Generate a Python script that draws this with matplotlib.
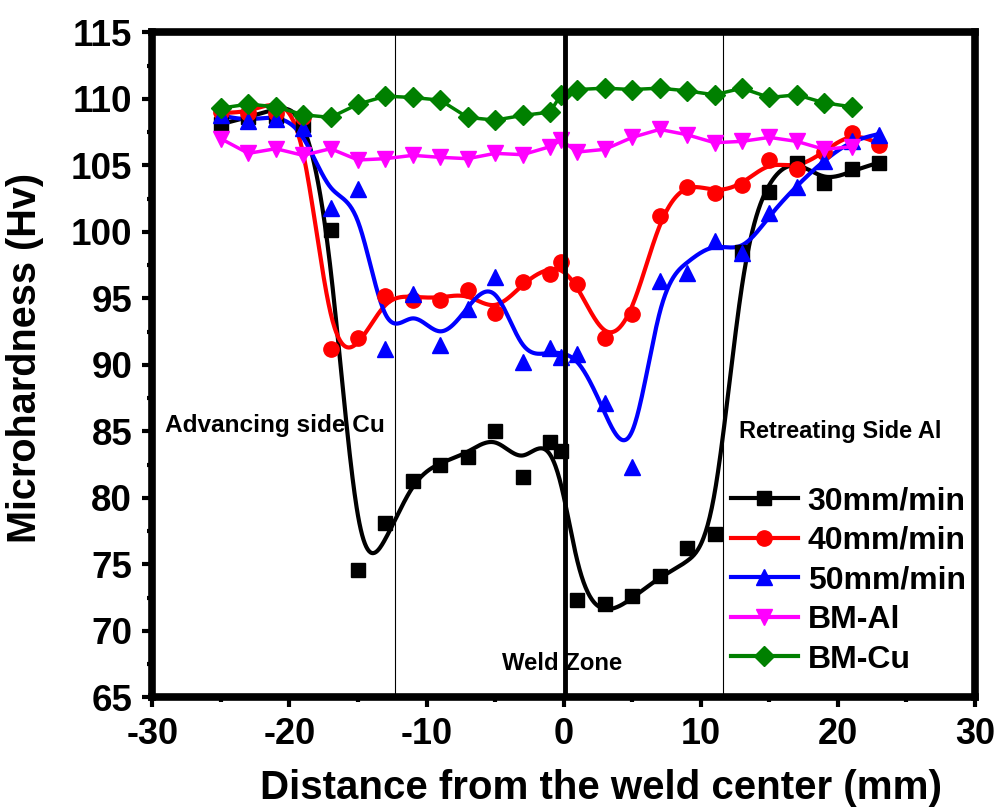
import numpy as np
import matplotlib
matplotlib.use('Agg')
from matplotlib import pyplot as plt
from matplotlib.lines import Line2D
from matplotlib.ticker import MultipleLocator

plt.rcParams['font.family'] = ['Liberation Sans', 'DejaVu Sans']
plt.rcParams['font.weight'] = 'bold'
plt.rcParams['axes.labelweight'] = 'bold'
plt.rcParams['axes.unicode_minus'] = False

# measurement positions (mm from weld center)
x_pos = np.array([-25, -23, -21, -19, -17, -15, -13, -11, -9, -7, -5, -3, -1, -0.2,
                  1, 3, 5, 7, 9, 11, 13, 15, 17, 19, 21, 23])
hv_30 = np.array([108.1, 108.6, 108.7, 108.0, 100.1, 74.6, 78.1, 81.3, 82.5, 83.1, 85.0, 81.6, 84.2, 83.5,
                  72.3, 72.0, 72.6, 74.1, 76.2, 77.3, 98.5, 103.0, 105.2, 103.7, 104.7, 105.2])
hv_40 = np.array([109.0, 108.9, 108.9, 108.6, 91.2, 92.0, 95.2, 94.9, 94.9, 95.6, 93.9, 96.2, 96.8, 97.7,
                  96.1, 92.0, 93.85, 101.2, 103.4, 102.9, 103.5, 105.4, 104.7, 106.0, 107.4, 106.5])
hv_50 = np.array([108.8, 108.3, 108.5, 107.8, 101.8, 103.2, 91.2, 95.3, 91.5, 94.2, 96.6, 90.2, 91.3, 90.6,
                  90.8, 87.1, 82.3, 96.3, 96.9, 99.3, 98.4, 101.4, 103.4, 105.3, 106.8, 107.3])

# base metals, measured up to 21 mm
x_bm = x_pos[:-1]
hv_al = np.array([107.0, 105.9, 106.25, 105.75, 106.25, 105.4, 105.5, 105.75, 105.6, 105.5, 105.9, 105.8, 106.4, 106.9,
                  106.0, 106.2, 107.1, 107.7, 107.3, 106.7, 106.8, 107.1, 106.8, 106.2, 106.4])
hv_cu = np.array([109.3, 109.6, 109.4, 108.8, 108.6, 109.6, 110.2, 110.1, 109.9, 108.6, 108.4, 108.75, 109.0, 110.3,
                  110.7, 110.8, 110.7, 110.8, 110.6, 110.3, 110.8, 110.1, 110.3, 109.7, 109.4])

labels = ['30mm/min', '40mm/min', '50mm/min', 'BM-Al', 'BM-Cu']


def smooth(x, y, lam=0.45, n=961):
    # penalised (cubic smoothing spline like) fit on a fine grid
    xf = np.linspace(x.min(), x.max(), n)
    h = xf[1] - xf[0]
    B = np.zeros((len(x), n))
    for i, xi in enumerate(x):
        j = min(int((xi - xf[0]) / h), n - 2)
        t = (xi - xf[j]) / h
        B[i, j] = 1 - t
        B[i, j + 1] = t
    D = np.diff(np.eye(n), 2, axis=0) / h ** 2
    A = B.T @ B + lam * h * D.T @ D
    z = np.linalg.solve(A, B.T @ y)
    return xf, z


fig = plt.figure(figsize=(9.99, 8.08), dpi=100)
ax = fig.add_axes([0.1525, 0.137, 0.8235, 0.823])

styles = [('black', 's', 10), ('red', 'o', 11), ('blue', '^', 11)]
for y, (c, m, ms) in zip([hv_30, hv_40, hv_50], styles):
    xf, yf = smooth(x_pos, y)
    ax.plot(xf, yf, color=c, lw=3, zorder=3)
    ax.plot(x_pos, y, ls='none', marker=m, ms=ms, color=c, zorder=4)

ax.plot(x_bm, hv_al, color='magenta', lw=2.5, marker='v', ms=11, zorder=5)
ax.plot(x_bm, hv_cu, color='green', lw=2.5, marker='D', ms=10, zorder=6)

# zone boundaries
ax.axvline(-12.3, color='black', lw=0.8, zorder=2)
ax.axvline(11.6, color='black', lw=0.8, zorder=2)
ax.axvline(0.1, color='black', lw=3.5, zorder=7)

ax.text(-29.1, 85.45, 'Advancing side Cu', fontsize=17.6, va='center', ha='left', zorder=8)
ax.text(12.8, 84.95, 'Retreating Side Al', fontsize=17, va='center', ha='left', zorder=8)
ax.text(-4.5, 67.55, 'Weld Zone', fontsize=17.2, va='center', ha='left', zorder=8)

ax.set_xlim(-30, 30)
ax.set_ylim(65, 115)
ax.xaxis.set_major_locator(MultipleLocator(10))
ax.xaxis.set_minor_locator(MultipleLocator(5))
ax.yaxis.set_major_locator(MultipleLocator(5))
ax.yaxis.set_minor_locator(MultipleLocator(2.5))
ax.tick_params(which='both', direction='out', top=False, right=False, width=3)
ax.tick_params(which='major', length=7.5, pad=7)
ax.tick_params(axis='x', which='major', labelsize=26)
ax.tick_params(axis='y', which='major', labelsize=26.5)
ax.tick_params(which='minor', length=3.5)
for s in ax.spines.values():
    s.set_linewidth(5.5)

ax.set_xlabel('Distance from the weld center (mm)', fontsize=29)
ax.xaxis.set_label_coords(0.545, -0.108)
ax.set_ylabel('Microhardness (Hv)', fontsize=28.5)
ax.yaxis.set_label_coords(-0.132, 0.51)

handles = [Line2D([], [], color=c, lw=3, marker=m, ms=ms) for c, m, ms in styles]
handles += [Line2D([], [], color='magenta', lw=3, marker='v', ms=11),
            Line2D([], [], color='green', lw=3, marker='D', ms=10)]
ax.legend(handles, labels, loc='lower right', bbox_to_anchor=(1.004, 0.015), frameon=False,
          fontsize=23, handlelength=2.1, labelspacing=0.3, handletextpad=0.3, borderaxespad=0)

fig.savefig('out.png', dpi=100)
